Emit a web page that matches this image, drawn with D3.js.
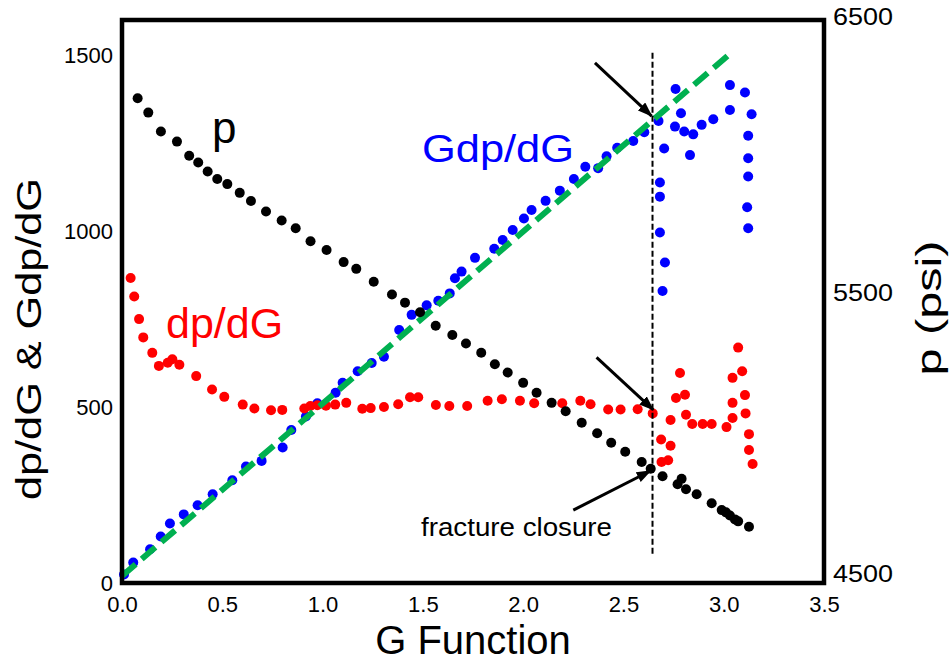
<!DOCTYPE html>
<html>
<head>
<meta charset="utf-8">
<script src="https://cdn.jsdelivr.net/npm/d3@7"></script>
<style>
  body { margin: 0; background: #fff; }
  svg { font-family: "Liberation Sans", Arial, sans-serif; }
</style>
</head>
<body>
<div id="chart"></div>
<script>
// pressure p (right axis)
var pG = [0.078, 0.131, 0.194, 0.274, 0.335, 0.380, 0.427, 0.475, 0.525, 0.587, 0.643, 0.718, 0.796, 0.866, 0.940, 1.020, 1.105, 1.168, 1.255, 1.346,
  1.411, 1.486, 1.564, 1.647, 1.715, 1.791, 1.859, 1.923, 2.000, 2.067, 2.142, 2.212, 2.292, 2.369, 2.439, 2.509, 2.591, 2.636, 2.695, 2.770,
  2.790, 2.812, 2.865, 2.940, 2.990, 3.011, 3.031, 3.056, 3.072, 3.126];
var pPsi = [6222, 6171, 6104, 6068, 6018, 5994, 5962, 5935, 5917, 5886, 5857, 5820, 5788, 5760, 5714, 5683, 5640, 5616, 5570, 5525,
  5496, 5462, 5414, 5381, 5351, 5318, 5277, 5248, 5211, 5176, 5140, 5110, 5069, 5032, 4998, 4966, 4930, 4906, 4879, 4851,
  4870, 4833, 4815, 4783, 4759, 4751, 4740, 4726, 4719, 4700];

// dp/dG (left axis)
var dpG = [0.043, 0.061, 0.085, 0.106, 0.151, 0.184, 0.228, 0.251, 0.286, 0.370, 0.449, 0.510, 0.602, 0.660, 0.743, 0.799, 0.909, 0.939, 0.974, 1.017,
  1.063, 1.118, 1.198, 1.240, 1.306, 1.377, 1.436, 1.477, 1.565, 1.632, 1.721, 1.823, 1.894, 1.984, 2.055, 2.195, 2.285, 2.336, 2.424, 2.486,
  2.571, 2.646, 2.688, 2.735, 2.690, 2.723, 2.735, 2.762, 2.782, 2.807, 2.812, 2.843, 2.895, 2.940, 3.014, 3.044, 3.044, 3.044, 3.072, 3.092,
  3.106, 3.109, 3.126, 3.126, 3.144];
var dpVal = [867, 814, 750, 698, 654, 617, 626, 636, 620, 588, 550, 529, 507, 496, 491, 492, 496, 503, 505, 504,
  507, 512, 495, 497, 500, 508, 528, 528, 506, 503, 503, 518, 522, 518, 511, 511, 518, 508, 493, 493,
  494, 482, 408, 390, 344, 349, 463, 526, 597, 535, 478, 452, 452, 452, 443, 469, 512, 583, 669, 602,
  534, 482, 423, 378, 338];

// G dp/dG (left axis)
var gdpG = [0.010, 0.056, 0.140, 0.193, 0.239, 0.308, 0.377, 0.452, 0.550, 0.618, 0.696, 0.801, 0.844, 0.917, 0.974, 1.065, 1.100, 1.175, 1.245, 1.306,
  1.382, 1.444, 1.519, 1.577, 1.634, 1.660, 1.693, 1.760, 1.856, 1.898, 1.948, 2.004, 2.042, 2.112, 2.183, 2.253, 2.310, 2.374, 2.416, 2.469,
  2.549, 2.604, 2.675, 2.703, 2.682, 2.682, 2.682, 2.707, 2.695, 2.760, 2.787, 2.757, 2.803, 2.848, 2.832, 2.890, 2.948, 3.031, 3.031, 3.106,
  3.139, 3.122, 3.122, 3.122, 3.117, 3.122];
var gdpVal = [24, 58, 96, 132, 169, 195, 221, 252, 292, 331, 347, 385, 435, 473, 511, 541, 569, 602, 625, 643,
  719, 762, 789, 802, 823, 866, 885, 924, 950, 975, 1003, 1036, 1060, 1086, 1115, 1148, 1183, 1179, 1213, 1237,
  1256, 1281, 1313, 1235, 1138, 1098, 996, 911, 830, 1404, 1335, 1297, 1283, 1275, 1216, 1302, 1318, 1344, 1415, 1394,
  1332, 1271, 1207, 1155, 1068, 1008];

// straight line fit through G dp/dG
var fitG = [0.0, 3.044];
var fitVal = [20, 1510];

var closureG = 2.645;
var closureSpan = [80, 1507];

var xTicks = [0, 0.5, 1.0, 1.5, 2.0, 2.5, 3.0, 3.5];
var yTicks = [0, 500, 1000, 1500];
var pTicks = [4500, 5500, 6500];

var margin = { top: 20, right: 127, bottom: 84, left: 122 },
  width = 951 - margin.left - margin.right,
  height = 667 - margin.top - margin.bottom;

var svg = d3.select("#chart").append("svg")
  .attr("width", 951)
  .attr("height", 667);

svg.append("defs").append("marker")
  .attr("id", "head")
  .attr("markerUnits", "userSpaceOnUse")
  .attr("viewBox", "0 0 15 11")
  .attr("refX", 14)
  .attr("refY", 5.5)
  .attr("markerWidth", 15)
  .attr("markerHeight", 11)
  .attr("orient", "auto")
  .append("path")
  .attr("d", "M0,0L15,5.5L0,11Z")
  .attr("fill", "#000");

var g = svg.append("g")
  .attr("transform", "translate(" + margin.left + "," + margin.top + ")");

var x = d3.scaleLinear().domain([0, 3.5]).range([0, width]);
var y = d3.scaleLinear().domain([0, 1600]).range([height, 0]);
var yP = d3.scaleLinear().domain([4500, 6500]).range([height, 0]);

// ======== axes ========
var xAxis = g.append("g")
  .attr("transform", "translate(0," + height + ")")
  .call(d3.axisBottom(x).tickValues(xTicks).tickSize(0).tickPadding(13).tickFormat(d3.format(".1f")));
xAxis.selectAll("text").style("font-size", "22px").attr("fill", "#000");

var yAxis = g.append("g")
  .call(d3.axisLeft(y).tickValues(yTicks).tickSize(0).tickPadding(9).tickFormat(d3.format("d")));
yAxis.selectAll("text").style("font-size", "22px").attr("fill", "#000");

var pAxis = g.append("g")
  .attr("transform", "translate(" + width + ",0)")
  .call(d3.axisRight(yP).tickValues(pTicks).tickSize(0).tickPadding(9).tickFormat(d3.format("d")));
pAxis.selectAll("text").style("font-size", "23px").attr("fill", "#000")
  .attr("dy", function (d) { return d == 6500 ? "0.2em" : "-0.05em"; })
  .attr("textLength", 60).attr("lengthAdjust", "spacingAndGlyphs");

g.selectAll(".domain").remove();

// ======== points ========
var blue = d3.zip(gdpG, gdpVal),
  red = d3.zip(dpG, dpVal),
  black = d3.zip(pG, pPsi);

g.append("g").selectAll("circle")
  .data(blue)
  .enter().append("circle")
  .attr("cx", function (d) { return x(d[0]); })
  .attr("cy", function (d) { return y(d[1]); })
  .attr("r", 5)
  .attr("fill", "#0000ff");

g.append("g").selectAll("circle")
  .data(red)
  .enter().append("circle")
  .attr("cx", function (d) { return x(d[0]); })
  .attr("cy", function (d) { return y(d[1]); })
  .attr("r", 5)
  .attr("fill", "#ff0000");

g.append("line")
  .attr("x1", x(fitG[0])).attr("y1", y(fitVal[0]))
  .attr("x2", x(fitG[1])).attr("y2", y(fitVal[1]))
  .attr("stroke", "#00b050")
  .attr("stroke-width", 6)
  .attr("stroke-dasharray", "18,8");

g.append("g").selectAll("circle")
  .data(black)
  .enter().append("circle")
  .attr("cx", function (d) { return x(d[0]); })
  .attr("cy", function (d) { return yP(d[1]); })
  .attr("r", 5)
  .attr("fill", "#000");

// closure line
g.append("line")
  .attr("x1", x(closureG)).attr("y1", y(closureSpan[1]))
  .attr("x2", x(closureG)).attr("y2", y(closureSpan[0]))
  .attr("stroke", "#000")
  .attr("stroke-width", 2)
  .attr("stroke-dasharray", "6,3");

// arrows, [G0, v0, G1, v1] in left axis units
var arrows = [[2.358, 1478, 2.641, 1327], [2.366, 641, 2.649, 492], [2.250, 207, 2.636, 319]];
g.append("g").selectAll("line")
  .data(arrows)
  .enter().append("line")
  .attr("x1", function (d) { return x(d[0]); })
  .attr("y1", function (d) { return y(d[1]); })
  .attr("x2", function (d) { return x(d[2]); })
  .attr("y2", function (d) { return y(d[3]); })
  .attr("stroke", "#000")
  .attr("stroke-width", 3)
  .attr("marker-end", "url(#head)");

// frame
g.append("rect")
  .attr("width", width)
  .attr("height", height)
  .attr("fill", "none")
  .attr("stroke", "#000")
  .attr("stroke-width", 4.5);

// ======== labels ========
svg.append("text")
  .attr("x", 212).attr("y", 143)
  .style("font-size", "44px")
  .attr("fill", "#000")
  .text("p");

svg.append("text")
  .attr("x", 422).attr("y", 162)
  .style("font-size", "39px")
  .attr("textLength", 152).attr("lengthAdjust", "spacingAndGlyphs")
  .attr("fill", "#0000ff")
  .text("Gdp/dG");

svg.append("text")
  .attr("x", 166).attr("y", 338)
  .style("font-size", "43px")
  .attr("fill", "#ff0000")
  .text("dp/dG");

svg.append("text")
  .attr("x", 421).attr("y", 536)
  .style("font-size", "26px")
  .attr("textLength", 191).attr("lengthAdjust", "spacingAndGlyphs")
  .attr("fill", "#000")
  .text("fracture closure");

svg.append("text")
  .attr("transform", "translate(41,339) rotate(-90)")
  .attr("text-anchor", "middle")
  .style("font-size", "35px")
  .attr("textLength", 322).attr("lengthAdjust", "spacingAndGlyphs")
  .text("dp/dG & Gdp/dG");

svg.append("text")
  .attr("transform", "translate(941,308) rotate(-90)")
  .attr("text-anchor", "middle")
  .style("font-size", "35px")
  .attr("textLength", 135).attr("lengthAdjust", "spacingAndGlyphs")
  .text("p (psi)");

svg.append("text")
  .attr("x", margin.left + width / 2).attr("y", 654)
  .attr("text-anchor", "middle")
  .style("font-size", "40px")
  .text("G Function");
</script>
</body>
</html>
